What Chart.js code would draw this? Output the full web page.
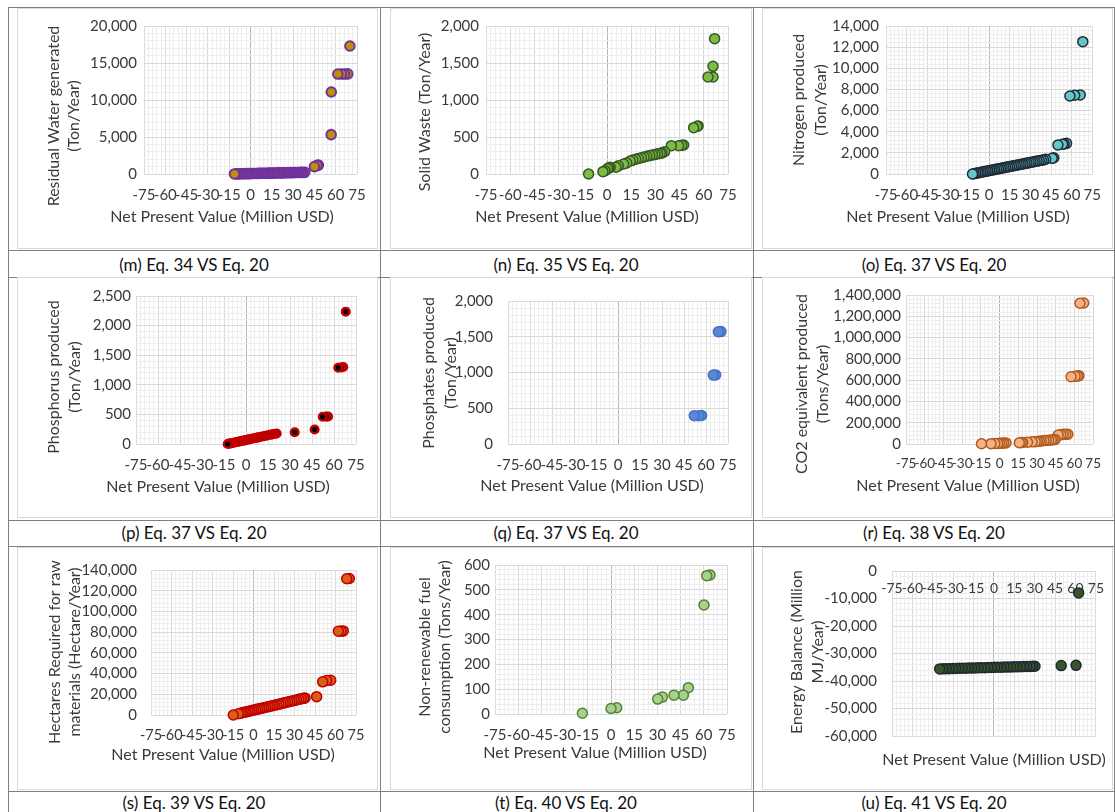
<!DOCTYPE html>
<html>
<head>
<meta charset="utf-8">
<title>Environmental indicators vs Net Present Value</title>
<script src="https://cdn.jsdelivr.net/npm/chart.js@4.4.1/dist/chart.umd.min.js"></script>
<style>
  html, body { margin: 0; padding: 0; background: #fff; }
  #page { position: relative; width: 1115px; height: 812px; overflow: hidden; font-family: Lato, "Open Sans", sans-serif; }
  .rule { position: absolute; background: #7f7f7f; }
  .frame { position: absolute; border: 1px solid #d9d9d9; box-sizing: border-box; }
  .panel { position: absolute; }
  .caption { position: absolute; width: 360px; text-align: center; font-size: 17px; line-height: 20px; color: #111; }
</style>
</head>
<body>
<div id="page"></div>
<script>
// ── Data ──────────────────────────────────────────────────────────────────────
// (m) Residual water generated vs NPV
const waterNpv = [
  -11.3, -10.1, -8.9, -7.8, -6.6, -5.4, -4.1, -2.9, -1.8, -0.6,
  0.7, 1.9, 3.0, 4.3, 5.5, 6.6, 7.9, 9.1, 10.2, 11.5,
  12.7, 13.8, 15.1, 16.3, 17.4, 18.7, 19.9, 21.0, 22.3, 23.5,
  24.6, 25.9, 27.1, 28.2, 29.5, 30.7, 31.8, 33.1, 34.3, 35.4,
  36.7, 38.2, 45.0, 46.9, 47.8, 56.8, 56.9, 61.5, 64.0, 66.2,
  68.5, 70.0];
const waterTon = [
  8, 14, 17, 25, 28, 36, 41, 44, 52, 57,
  61, 68, 72, 77, 83, 88, 92, 99, 103, 108,
  114, 118, 125, 129, 133, 140, 146, 150, 155, 161,
  166, 171, 177, 182, 186, 193, 198, 204, 208, 213,
  219, 226, 990, 1170, 1210, 5320, 11080, 13510, 13520, 13510,
  13530, 17300];

// (n) Solid waste vs NPV
const wasteNpv = [
  -11.4, -2.5, -1.2, 0.3, 1.1, 2.0, 5.6, 7.0, 10.3, 12.2,
  14.4, 16.0, 17.8, 19.5, 21.3, 23.0, 24.7, 26.5, 28.2, 29.8,
  31.4, 33.0, 34.1, 35.7, 39.9, 44.4, 46.3, 47.5, 53.7, 55.8,
  56.5, 62.6, 65.7, 65.7, 66.7];
const wasteTon = [
  0, 32, 45, 70, 85, 90, 92, 110, 135, 150,
  176, 188, 199, 210, 221, 231, 240, 249, 258, 265,
  272, 281, 285, 302, 383, 383, 388, 392, 626, 645,
  650, 1311, 1311, 1455, 1829];

// (o) Nitrogen produced vs NPV
const nitrogenNpv = [
  -12.1, -11.0, -9.8, -8.5, -7.3, -6.0, -4.8, -3.5, -2.2, -1.0,
  0.3, 1.6, 2.9, 4.1, 5.5, 6.8, 8.1, 9.4, 10.8, 12.1,
  13.5, 14.8, 16.2, 17.6, 19.0, 20.4, 21.8, 23.2, 24.6, 26.1,
  27.5, 29.0, 30.4, 31.9, 33.4, 34.9, 36.4, 38.0, 39.5, 41.1,
  45.8, 47.0, 50.0, 53.4, 54.5, 56.3, 58.7, 62.2, 66.2, 68.1];
const nitrogenTon = [
  0, 28, 61, 94, 127, 162, 193, 228, 262, 291,
  327, 361, 393, 428, 462, 497, 529, 566, 601, 636,
  671, 704, 742, 776, 812, 849, 884, 921, 957, 996,
  1031, 1069, 1106, 1144, 1182, 1221, 1258, 1297, 1336, 1392,
  1480, 1540, 2740, 2810, 2840, 2900, 7380, 7450, 7480, 12520];

// (p) Phosphorus produced vs NPV
const phosphorusNpv = [
  -12.5, -11.5, -10.4, -9.3, -8.2, -7.1, -6.0, -4.9, -3.7, -2.6,
  -1.4, -0.3, 0.9, 2.1, 3.3, 4.5, 5.8, 7.0, 8.3, 9.6,
  10.9, 12.3, 13.6, 15.0, 16.4, 17.9, 19.4, 20.9, 33.2, 46.8,
  52.3, 54.8, 56.0, 62.9, 65.0, 66.3, 68.0];
const phosphorusTon = [
  0, 6, 11, 17, 22, 29, 35, 40, 47, 53,
  58, 66, 71, 78, 84, 92, 98, 104, 112, 118,
  126, 132, 140, 147, 155, 162, 170, 178, 198, 245,
  461, 462, 465, 1289, 1292, 1300, 2235];

// (q) Phosphates produced vs NPV
const phosphatesNpv = [52.0, 55.2, 57.0, 65.0, 66.6, 68.4, 70.2];
const phosphatesTon = [396, 396, 398, 964, 966, 1570, 1572];

// (r) CO2 equivalent produced vs NPV
const co2Npv = [
  -14.5, -6.9, -3.8, -1.5, 0.0, 1.8, 3.3, 5.1, 15.8, 17.3,
  18.5, 22.4, 26.0, 28.5, 30.2, 31.8, 33.5, 35.6, 37.4, 39.4,
  41.5, 43.0, 44.5, 47.0, 49.0, 50.9, 53.0, 54.7, 57.3, 60.5,
  62.3, 63.6, 64.4, 67.4];
const co2Tons = [
  2000, 3000, 4000, 5000, 6500, 7500, 9000, 10000, 12000, 13000,
  14500, 16000, 20000, 22000, 24000, 26000, 29000, 32000, 34000, 36000,
  38000, 40000, 43000, 84600, 86000, 90800, 91000, 92000, 632000, 636000,
  639000, 642000, 1322000, 1325000];

// (s) Hectares required for raw materials vs NPV
const hectaresNpv = [
  -14.8, -11.1, -9.5, -8.2, -6.8, -5.5, -4.0, -2.6, -1.2, 0.2,
  1.7, 3.1, 4.6, 6.1, 7.6, 9.1, 10.7, 12.2, 13.8, 15.3,
  16.9, 18.5, 20.1, 21.7, 23.3, 25.0, 26.6, 28.2, 29.9, 31.5,
  33.2, 34.9, 36.6, 37.7, 46.2, 50.6, 53.5, 56.5, 62.1, 64.0,
  65.7, 68.2, 70.1];
const hectaresArea = [
  0, 1200, 1700, 2200, 2600, 3000, 3500, 3900, 4300, 4800,
  5200, 5700, 6100, 6600, 7100, 7500, 8000, 8500, 9000, 9400,
  9900, 10400, 10900, 11500, 12000, 12500, 13000, 13500, 14000, 14600,
  15100, 15600, 16100, 16500, 17700, 32000, 33300, 33500, 80900, 81000,
  81200, 131600, 131800];

// (t) Non-renewable fuel consumption vs NPV
const fuelNpv = [-18.5, 0.0, 3.7, 30.2, 33.2, 40.7, 46.8, 50.0, 60.1, 61.9, 64.0];
const fuelTons = [3, 22, 25, 60, 68, 76, 76, 106, 439, 557, 560];

// (u) Energy balance vs NPV
const energyNpv = [
  -39.9, -37.6, -35.2, -32.9, -30.4, -28.1, -25.7, -23.3, -20.9, -18.6,
  -16.2, -13.8, -11.4, -9.1, -6.7, -4.3, -1.9, 0.5, 2.8, 5.2,
  7.6, 10.0, 12.3, 14.7, 17.1, 19.5, 21.8, 24.2, 26.6, 28.4,
  30.2, 49.5, 60.4, 62.3];
const energyMJ = [
  -35600, -35570, -35530, -35500, -35470, -35430, -35400, -35370, -35340, -35310,
  -35270, -35240, -35200, -35170, -35140, -35110, -35070, -35040, -35010, -34980,
  -34950, -34910, -34880, -34850, -34820, -34790, -34760, -34720, -34690, -34670,
  -34650, -34400, -34300, -7970];

const npvTitle = "Net Present Value (Million USD)";

// ── Panel definitions ─────────────────────────────────────────────────────────
const panels = [
  { xs: waterNpv, ys: waterTon, yMax: 20000, yMajor: 5000,
    yTitle: ["Residual Water generated", "(Ton/Year)"],
    fill: "#bf9000", edge: "#7030a0", edgeWidth: 2, radius: 4.8,
    frame: [17, 8, 378, 249], plot: [144, 26, 357, 174],
    yTitleX: [54, 74], yTitleY: 116, xTitleAt: [222, 217], yPad: 7,
    caption: "(m) Eq. 34 VS Eq. 20", capAt: [194, 265] },
  { xs: wasteNpv, ys: wasteTon, yMax: 2000, yMajor: 500,
    yTitle: ["Solid Waste (Ton/Year)"],
    fill: "#7cbc45", edge: "#385723", edgeWidth: 1.5, radius: 5,
    frame: [390, 8, 752, 249], plot: [486, 26, 728, 174],
    yTitleX: [425], yTitleY: 112, xTitleAt: [587, 217], yPad: 7,
    caption: "(n) Eq. 35 VS Eq. 20", capAt: [566, 265] },
  { xs: nitrogenNpv, ys: nitrogenTon, yMax: 14000, yMajor: 2000,
    yTitle: ["Nitrogen produced", "(Ton/Year)"],
    fill: "#63c7c9", edge: "#1f2a36", edgeWidth: 1.5, radius: 5,
    frame: [762, 8, 1113, 249], plot: [886, 26, 1099, 174],
    yTitleX: [799, 821], yTitleY: 100, xTitleAt: [958, 217], yPad: 7,
    caption: "(o) Eq. 37 VS Eq. 20", capAt: [934, 265] },
  { xs: phosphorusNpv, ys: phosphorusTon, yMax: 2500, yMajor: 500,
    yTitle: ["Phosphorus produced", "(Ton/Year)"],
    fill: "#000000", edge: "#c00000", edgeWidth: 2.5, radius: 3.8,
    frame: [17, 277, 378, 518], plot: [136, 296, 356, 444],
    yTitleX: [54, 75], yTitleY: 377, xTitleAt: [218, 487], yPad: 5,
    caption: "(p) Eq. 37 VS Eq. 20", capAt: [194, 533] },
  { xs: phosphatesNpv, ys: phosphatesTon, yMax: 2000, yMajor: 500,
    yTitle: ["Phosphates produced", "(Ton/Year)"],
    fill: "#5a87d6", edge: "#4472c4", edgeWidth: 1.5, radius: 5,
    frame: [390, 277, 752, 518], plot: [508, 296, 728, 444],
    yTitleX: [429, 451], yTitleY: 373, xTitleAt: [592, 486], yPad: 15,
    caption: "(q) Eq. 37 VS Eq. 20", capAt: [566, 533] },
  { xs: co2Npv, ys: co2Tons, yMax: 1400000, yMajor: 200000,
    yTitle: ["CO2 equivalent produced", "(Tons/Year)"],
    fill: "#f4b183", edge: "#b05a1e", edgeWidth: 1.5, radius: 5,
    frame: [762, 277, 1113, 518], plot: [906, 295, 1099, 444], xFont: 13.5,
    yTitleX: [802, 823], yTitleY: 384, xTitleAt: [968, 486], yPad: 5,
    caption: "(r) Eq. 38 VS Eq. 20", capAt: [934, 533] },
  { xs: hectaresNpv, ys: hectaresArea, yMax: 140000, yMajor: 20000,
    yTitle: ["Hectares Required for raw", "materials (Hectare/Year)"],
    fill: "#d95f17", edge: "#c00000", edgeWidth: 1.5, radius: 5,
    frame: [17, 547, 378, 790], plot: [151, 565, 356, 715], xFont: 14.5,
    yTitleX: [55, 75], yTitleY: 652, xTitleAt: [223, 755], yPad: 14,
    caption: "(s) Eq. 39 VS Eq. 20", capAt: [194, 803] },
  { xs: fuelNpv, ys: fuelTons, yMax: 600, yMajor: 100,
    yTitle: ["Non-renewable fuel", "consumption (Tons/Year)"],
    fill: "#a9d18e", edge: "#548235", edgeWidth: 1.5, radius: 5,
    frame: [390, 547, 752, 790], plot: [495, 565, 727, 714],
    yTitleX: [425, 445], yTitleY: 647, xTitleAt: [595, 753], yPad: 5,
    caption: "(t) Eq. 40 VS Eq. 20", capAt: [566, 803] },
  { xs: energyNpv, ys: energyMJ, yMin: -60000, yMax: 0, yMajor: 10000,
    yTitle: ["Energy Balance (Million", "MJ/Year)"],
    fill: "#375623", edge: "#1f2a36", edgeWidth: 1.5, radius: 5,
    frame: [762, 547, 1113, 790], plot: [892, 568, 1099, 736], xAtTop: true, xPad: 9, xFont: 14,
    yTitleX: [797, 818], yTitleY: 652, xTitleAt: [994, 760], yPad: 15,
    caption: "(u) Eq. 41 VS Eq. 20", capAt: [934, 803] },
];

// ── Table rules and captions ──────────────────────────────────────────────────
const page = document.getElementById("page");
const tableRows = [7, 250, 277, 520, 546, 791];
const tableCols = [8, 380, 753, 1114];

function addDiv(cls, css, text) {
    const el = document.createElement("div");
    el.className = cls;
    Object.assign(el.style, css);
    if (text) el.textContent = text;
    page.appendChild(el);
    return el;
}

tableRows.forEach((y) => addDiv("rule", { left: "8px", top: y + "px", width: "1107px", height: "1px" }));
tableCols.forEach((x) => addDiv("rule", { left: x + "px", top: "7px", width: "1px", height: "805px" }));

// ── Chart helpers ─────────────────────────────────────────────────────────────
Chart.defaults.font.family = "Lato, 'Open Sans', sans-serif";
Chart.defaults.color = "#3a3a3a";

const onStep = (v, step) => Math.abs(v / step - Math.round(v / step)) < 1e-6;

function gridColor(v, major, zeroLine) {
    if (zeroLine && Math.abs(v) < 1e-9) return "#b4b4b4";
    return onStep(v, major) ? "#d9d9d9" : "#eeeeee";
}

const axisTitles = {
    id: "axisTitles",
    afterDraw(chart, args, opts) {
        const ctx = chart.ctx;
        ctx.save();
        ctx.fillStyle = "#3a3a3a";
        ctx.font = "16px Lato, 'Open Sans', sans-serif";
        ctx.textAlign = "center";
        ctx.textBaseline = "middle";
        opts.yLines.forEach((line, i) => {
            ctx.save();
            ctx.translate(opts.yX[i], opts.yY);
            ctx.rotate(-Math.PI / 2);
            ctx.fillText(line, 0, 0);
            ctx.restore();
        });
        ctx.fillText(opts.xText, opts.xX, opts.xY);
        ctx.restore();
    },
};

function drawPanel(p) {
    const [fl, ft, fr, fb] = p.frame;
    const [pl, pt, pr, pb] = p.plot;
    const w = fr - fl;
    const h = fb - ft;
    const box = { left: fl + "px", top: ft + "px", width: w + "px", height: h + "px" };

    addDiv("frame", box);
    const holder = addDiv("panel", box);
    const canvas = document.createElement("canvas");
    holder.appendChild(canvas);

    addDiv("caption", { left: (p.capAt[0] - 180) + "px", top: (p.capAt[1] - 10) + "px" }, p.caption);

    // last point drawn on top, as in the spreadsheet export
    const points = p.xs.map((x, i) => ({ x, y: p.ys[i] })).reverse();
    const yMinor = p.yMajor / 5;

    new Chart(canvas, {
        type: "scatter",
        data: {
            datasets: [{
                data: points,
                backgroundColor: p.fill,
                borderColor: p.edge,
                borderWidth: p.edgeWidth,
                pointRadius: p.radius,
                pointHoverRadius: p.radius,
                clip: false,
            }],
        },
        options: {
            responsive: true,
            maintainAspectRatio: false,
            animation: false,
            events: [],
            layout: {
                padding: { left: 0, top: pt - ft, right: fr - pr, bottom: p.xAtTop ? fb - pb : 0 },
            },
            plugins: {
                legend: { display: false },
                tooltip: { enabled: false },
                axisTitles: {
                    yLines: p.yTitle,
                    yX: p.yTitleX.map((x) => x - fl),
                    yY: p.yTitleY - ft,
                    xText: npvTitle,
                    xX: p.xTitleAt[0] - fl,
                    xY: p.xTitleAt[1] - ft,
                },
            },
            scales: {
                x: {
                    type: "linear",
                    min: -75,
                    max: 75,
                    position: p.xAtTop ? { y: 0 } : "bottom",
                    afterFit: (s) => { if (!p.xAtTop) s.height = fb - pb; },
                    border: { display: false },
                    grid: { drawTicks: false, color: (c) => gridColor(c.tick.value, 15, true) },
                    ticks: {
                        stepSize: 3,
                        autoSkip: false,
                        maxRotation: 0,
                        minRotation: 0,
                        padding: p.xPad ?? 12,
                        font: { size: p.xFont ?? 15 },
                        callback: (v) => (onStep(v, 15) ? String(v) : ""),
                    },
                },
                y: {
                    type: "linear",
                    min: p.yMin ?? 0,
                    max: p.yMax,
                    afterFit: (s) => { s.width = pl - fl; },
                    border: { display: false },
                    grid: { drawTicks: false, color: (c) => gridColor(c.tick.value, p.yMajor, false) },
                    ticks: {
                        stepSize: yMinor,
                        autoSkip: false,
                        padding: p.yPad,
                        font: { size: 15 },
                        callback: (v) => (onStep(v, p.yMajor) ? v.toLocaleString("en-US") : ""),
                    },
                },
            },
        },
        plugins: [axisTitles],
    });
}

panels.forEach(drawPanel);
</script>
</body>
</html>
